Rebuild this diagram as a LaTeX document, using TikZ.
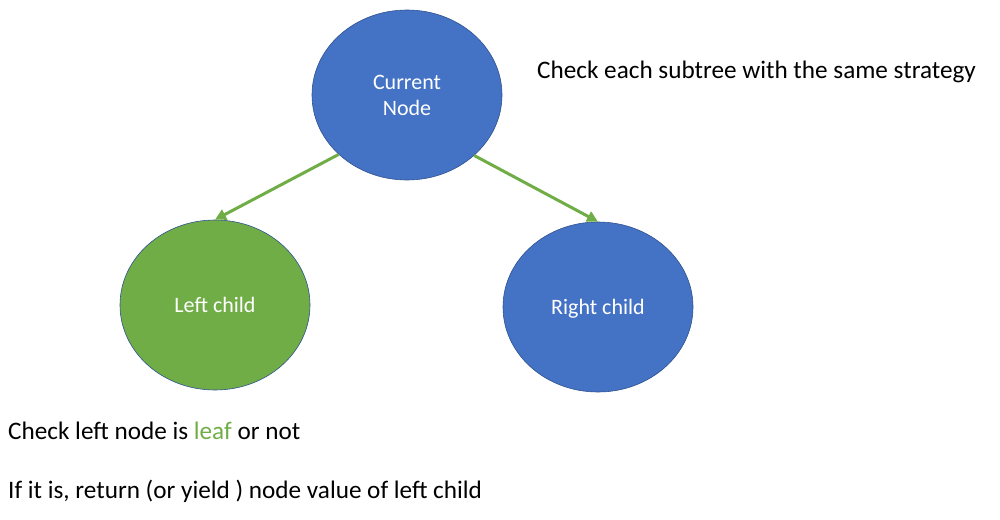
\documentclass[tikz,border=0pt]{standalone}
\usepackage{fontspec}
\setmainfont{Carlito}
\usetikzlibrary{shapes.geometric,arrows.meta}
\definecolor{nblue}{HTML}{4472C4}
\definecolor{ngreen}{HTML}{70AD47}
\definecolor{nedge}{HTML}{2F528F}
\tikzset{
  treenode/.style={ellipse, draw=nedge, line width=0.6pt, minimum width=190pt, minimum height=170pt, inner sep=0pt, text=white, font=\fontsize{22}{26}\selectfont, align=center, text depth=0pt},
  link/.style={draw=ngreen, line width=3pt, -{Triangle[length=11pt,width=11pt]}},
  note/.style={anchor=west, inner sep=0pt, font=\fontsize{25.2}{30}\selectfont}
}
\begin{document}
\begin{tikzpicture}[x=1pt,y=-1pt]
\useasboundingbox (0,0) rectangle (1000,519);
\node[treenode, fill=nblue] (cur) at (407,95) {Current\\Node};
\node[treenode, fill=ngreen] (left) at (215,305) {Left child};
\node[treenode, fill=nblue] (right) at (598,307) {Right child};
\draw[link] (cur.221.8) -- (left.north);
\draw[link] (cur.318.6) -- (right.north);
\node[note] (t1) at (537,72) {Check each subtree with the same strategy};
\node[note] (t2) at (8,431) {Check left node is \textcolor{ngreen}{leaf} or not};
\node[note] (t3) at (8,491) {If it is, return (or yield ) node value of left child};
\end{tikzpicture}
\end{document}
